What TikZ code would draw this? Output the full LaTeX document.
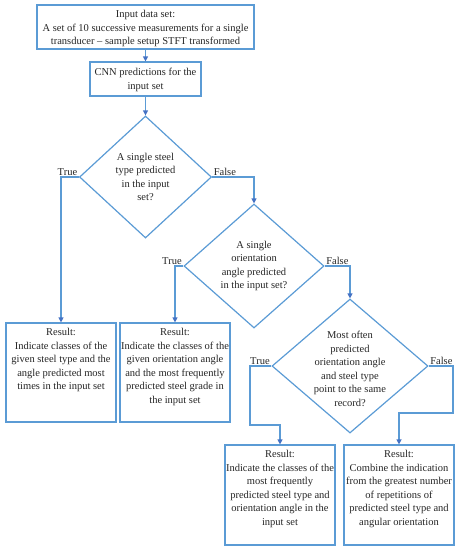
\documentclass[tikz,border=0pt]{standalone}
\usepackage{fontspec}
\setmainfont{Liberation Serif}
\usetikzlibrary{shapes.geometric,arrows.meta}
\definecolor{boxblue}{RGB}{91,155,213}
\definecolor{tipblue}{RGB}{68,114,196}
\tikzset{
  base/.style={font=\fontsize{10.5}{13.5}\selectfont, text=black!85},
  rbox/.style={draw=boxblue, line width=1.2pt, rectangle, inner sep=0pt},
  txt/.style={base, align=center, inner sep=0pt},
  dia/.style={draw=boxblue, line width=1.2pt, diamond, inner sep=0pt},
  lab/.style={base, inner sep=1.5pt},
  conn/.style={draw=boxblue, line width=1.2pt, -{Triangle[width=5pt,length=5pt,fill=tipblue,color=tipblue]}}
}
\begin{document}
\begin{tikzpicture}[x=1pt,y=-1pt]
\useasboundingbox (0,0) rectangle (457,550);
% input box
\node[rbox, minimum width=217pt, minimum height=44pt] (in) at (145.5,27) {};
\node[txt] (intxt) at (145.5,28.5) {Input data set:\\A set of 10 successive measurements for a single\\transducer -- sample setup STFT transformed};
% CNN box
\node[rbox, minimum width=111pt, minimum height=34pt] (cnn) at (145.5,79) {};
\node[txt] (cnntxt) at (145.5,80) {CNN predictions for the\\input set};
% diamonds
\node[dia, minimum width=132pt, minimum height=122pt] (d1) at (145.5,177) {};
\node[txt] (d1txt) at (d1.center) {A single steel\\type predicted\\in the input\\set?};
\node[dia, minimum width=140pt, minimum height=124pt] (d2) at (254,266) {};
\node[txt] (d2txt) at (d2.center) {A single\\orientation\\angle predicted\\in the input set?};
\node[dia, minimum width=156pt, minimum height=134pt] (d3) at (350,366) {};
\node[txt] (d3txt) at (350,369) {Most often\\predicted\\orientation angle\\and steel type\\point to the same\\record?};
% result boxes
\node[rbox, minimum width=110pt, minimum height=99pt] (r1) at (61,372.5) {};
\node[txt, anchor=north] (r1txt) at ([yshift=-6pt]r1.north) {Result:\\Indicate classes of the\\given steel type and the\\angle predicted most\\times in the input set};
\node[rbox, minimum width=110pt, minimum height=99pt] (r2) at (175,372.5) {};
\node[txt, anchor=north] (r2txt) at ([yshift=-6pt]r2.north) {Result:\\Indicate the classes of the\\given orientation angle\\and the most frequently\\predicted steel grade in\\the input set};
\node[rbox, minimum width=110pt, minimum height=100pt] (r4) at (280,495) {};
\node[txt, anchor=north] (r4txt) at ([yshift=-6pt]r4.north) {Result:\\Indicate the classes of the\\most frequently\\predicted steel type and\\orientation angle in the\\input set};
\node[rbox, minimum width=110pt, minimum height=100pt] (r5) at (399,495) {};
\node[txt, anchor=north] (r5txt) at ([yshift=-6pt]r5.north) {Result:\\Combine the indication\\from the greatest number\\of repetitions of\\predicted steel type and\\angular orientation};
% connectors
\draw[conn] (in.south) -- (cnn.north);
\draw[conn] (cnn.south) -- (d1.north);
\draw[conn] (d1.west) -| (r1.north);
\draw[conn] (d1.east) -| (d2.north);
\draw[conn] (d2.west) -| (r2.north);
\draw[conn] (d2.east) -| (d3.north);
\coordinate (t1) at (250,366);
\coordinate (t2) at (250,425);
\coordinate (t3) at (280,425);
\draw[conn] (d3.west) -- (t1) -- (t2) -- (t3) -- (r4.north);
\coordinate (f1) at (453,366);
\coordinate (f2) at (453,413);
\coordinate (f3) at (399,413);
\draw[conn] (d3.east) -- (f1) -- (f2) -- (f3) -- (r5.north);
% labels
\node[lab, anchor=south east] (l1) at (d1.west) {True};
\node[lab, anchor=south west] (l2) at (d1.east) {False};
\node[lab, anchor=south east] (l3) at (d2.west) {True};
\node[lab, anchor=south west] (l4) at (d2.east) {False};
\node[lab, anchor=south east] (l5) at (d3.west) {True};
\node[lab, anchor=south west] (l6) at (d3.east) {False};
\end{tikzpicture}
\end{document}
